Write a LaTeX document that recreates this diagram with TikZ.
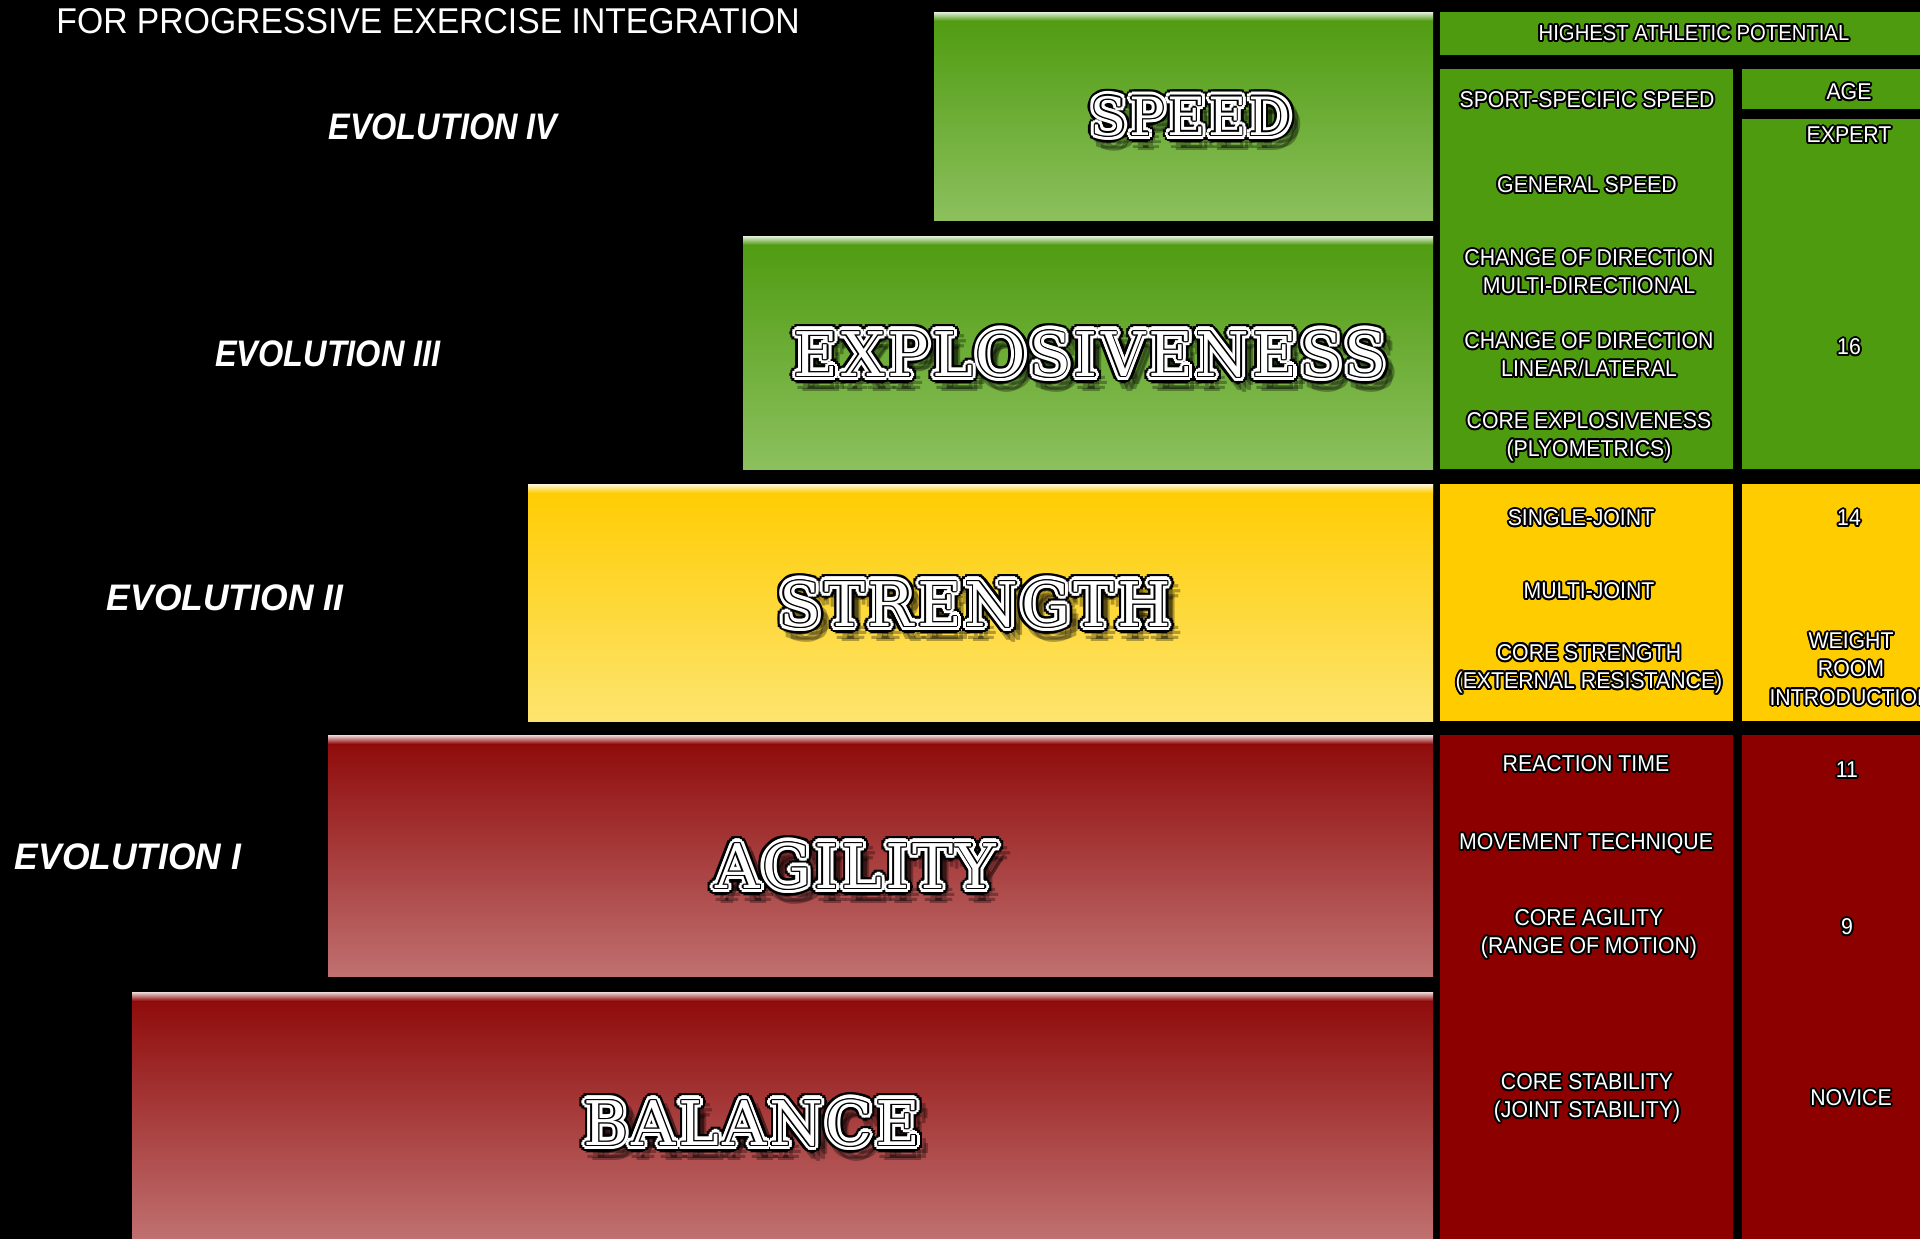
\documentclass[tikz,border=0pt]{standalone}
\usepackage{fontspec}
\setmainfont{Liberation Sans}
\newfontfamily\titlefont[FakeStretch=0.94]{Liberation Sans}
\newfontfamily\evofont[FakeStretch=0.88]{Liberation Sans}
\newfontfamily\evowidefont[FakeStretch=0.96]{Liberation Sans}
\newfontfamily\cellfont[FakeStretch=0.93]{Liberation Sans}
\newfontfamily\varsityfont[FakeStretch=1.0, LetterSpace=4.5]{DejaVu Serif}
\usetikzlibrary{positioning}

\definecolor{grassgreen}{RGB}{78,155,15}
\definecolor{palegreen}{RGB}{140,192,94}
\definecolor{goldyellow}{RGB}{255,204,0}
\definecolor{paleyellow}{RGB}{253,228,110}
\definecolor{deepred}{RGB}{142,8,8}
\definecolor{palered}{RGB}{192,112,112}
\definecolor{cellred}{RGB}{140,0,0}

% white text with a dark rim: #1 name, #2 position, #3 font, #4 rim width, #5 text
\newcommand{\rimtext}[5]{%
  \foreach \ang in {0,30,...,330}
    \node[font=#3, text=black, align=center] at ([shift={(\ang:#4)}]#2) {#5};
  \node[font=#3, text=white, align=center] (#1) at (#2) {#5};
}

% college lettering: shadow, black edge, white band, thin black inline
% [#1 size in pt] #2 name, #3 position, #4 text
\newcommand{\varsity}[4][17.5]{%
  \def\bigsize{\varsityfont\fontsize{#1}{20}\selectfont}%
  \foreach \ang in {0,45,...,315}
    \node[font=\bigsize, text=black, opacity=0.3] at ([shift={(\ang:7)}, shift={(6,8)}]#3) {#4};
  \foreach \ang in {0,22.5,...,337.5}
    \node[font=\bigsize, text=black] at ([shift={(\ang:7)}]#3) {#4};
  \foreach \ang in {0,30,...,330}
    \node[font=\bigsize, text=white] at ([shift={(\ang:4.5)}]#3) {#4};
  \foreach \ang in {0,45,...,315}
    \node[font=\bigsize, text=black] at ([shift={(\ang:1.4)}]#3) {#4};
  \node[font=\bigsize, text=white] (#2) at (#3) {#4};
}

\begin{document}
\begin{tikzpicture}[
    x=0.01cm, y=-0.01cm, % one unit = one pixel, y down
    inner sep=0pt,
    cell/.style={fill=grassgreen}, % flat panel on the right
    evo/.style={text=white, font=\evofont\bfseries\itshape\fontsize{10.5}{12}\selectfont},
    evowide/.style={text=white, font=\evowidefont\bfseries\itshape\fontsize{10.5}{12}\selectfont},
    headline/.style={text=white, font=\titlefont\fontsize{10.2}{12}\selectfont}
]

    % page and background
    \useasboundingbox (0,0) rectangle (1920,1239);
    \clip (0,0) rectangle (1920,1239);
    \fill[black] (0,0) rectangle (1920,1239);

    \def\cellsize{\cellfont\fontsize{6.5}{8}\selectfont}

    % stair bars (left edge / top / bottom / top colour / bottom colour)
    \foreach \xl/\yt/\yb/\ctop/\cbot in {934/12/220/grassgreen/palegreen,
        743/236/469/grassgreen/palegreen, 528/484/721/goldyellow/paleyellow,
        328/735/976/deepred/palered, 132/992/1239/deepred/palered} {
        \shade[top color=\ctop, bottom color=\cbot] (\xl,\yt) rectangle (1433,\yb);
        \shade[top color=white!85!\ctop, bottom color=\ctop] (\xl,\yt) rectangle (1433,\yt+9);
    }

    % right hand panels
    \fill[cell] (1440,12) rectangle (1920,55);
    \fill[cell] (1440,69) rectangle (1733,469);
    \fill[cell] (1742,69) rectangle (1920,109);
    \fill[cell] (1742,119) rectangle (1920,469);
    \fill[goldyellow] (1440,484) rectangle (1733,721);
    \fill[goldyellow] (1742,484) rectangle (1920,721);
    \fill[cellred] (1440,735) rectangle (1733,1239);
    \fill[cellred] (1742,735) rectangle (1920,1239);

    % title and evolution labels
    \node[headline] (title) at (428,21) {FOR PROGRESSIVE EXERCISE INTEGRATION};
    \node[evo] (evo4) at (443,127) {EVOLUTION IV};
    \node[evo] (evo3) at (328,354) {EVOLUTION III};
    \node[evowide] (evo2) at (225,598) {EVOLUTION II};
    \node[evowide] (evo1) at (128,857) {EVOLUTION I};

    % big bar labels
    \varsity[15]{speed}{1191,116}{SPEED}
    \varsity{explosive}{1090,354}{EXPLOSIVENESS}
    \varsity{strength}{975,604}{STRENGTH}
    \varsity{agility}{856,866}{AGILITY}
    \varsity{balance}{752,1123}{BALANCE}

    % green panel
    \rimtext{potential}{1694,33}{\cellfont\fontsize{6.2}{8}\selectfont}{2}{HIGHEST ATHLETIC POTENTIAL}
    \rimtext{sportspeed}{1587,100}{\cellsize}{2}{SPORT-SPECIFIC SPEED}
    \rimtext{genspeed}{1587,185}{\cellsize}{2}{GENERAL SPEED}
    \rimtext{multidir}{1589,272}{\cellsize}{2}{CHANGE OF DIRECTION\\MULTI-DIRECTIONAL}
    \rimtext{lindir}{1589,355}{\cellsize}{2}{CHANGE OF DIRECTION\\LINEAR/LATERAL}
    \rimtext{coreexp}{1589,437}{\cellsize}{2}{CORE EXPLOSIVENESS\\(PLYOMETRICS)}
    \rimtext{age}{1849,92}{\cellsize}{2}{AGE}
    \rimtext{expert}{1849,135}{\cellsize}{2}{EXPERT}
    \rimtext{age16}{1849,347}{\cellsize}{2}{16}

    % yellow panel
    \rimtext{single}{1581,518}{\cellsize}{2}{SINGLE-JOINT}
    \rimtext{multi}{1589,591}{\cellsize}{2}{MULTI-JOINT}
    \rimtext{corestr}{1589,669}{\cellsize}{2}{CORE STRENGTH\\(EXTERNAL RESISTANCE)}
    \rimtext{age14}{1849,518}{\cellsize}{2}{14}
    \rimtext{weight}{1851,669}{\cellsize}{2}{WEIGHT\\ROOM\\INTRODUCTION}

    % red panel
    \rimtext{reaction}{1586,764}{\cellsize}{2}{REACTION TIME}
    \rimtext{technique}{1586,844}{\cellsize}{2}{MOVEMENT TECHNIQUE}
    \rimtext{coreagil}{1589,934}{\cellsize}{2}{CORE AGILITY\\(RANGE OF MOTION)}
    \rimtext{corestab}{1587,1098}{\cellsize}{2}{CORE STABILITY\\(JOINT STABILITY)}
    \rimtext{age11}{1847,770}{\cellsize}{2}{11}
    \rimtext{age9}{1847,927}{\cellsize}{2}{9}
    \rimtext{novice}{1851,1098}{\cellsize}{2}{NOVICE}

\end{tikzpicture}
\end{document}
